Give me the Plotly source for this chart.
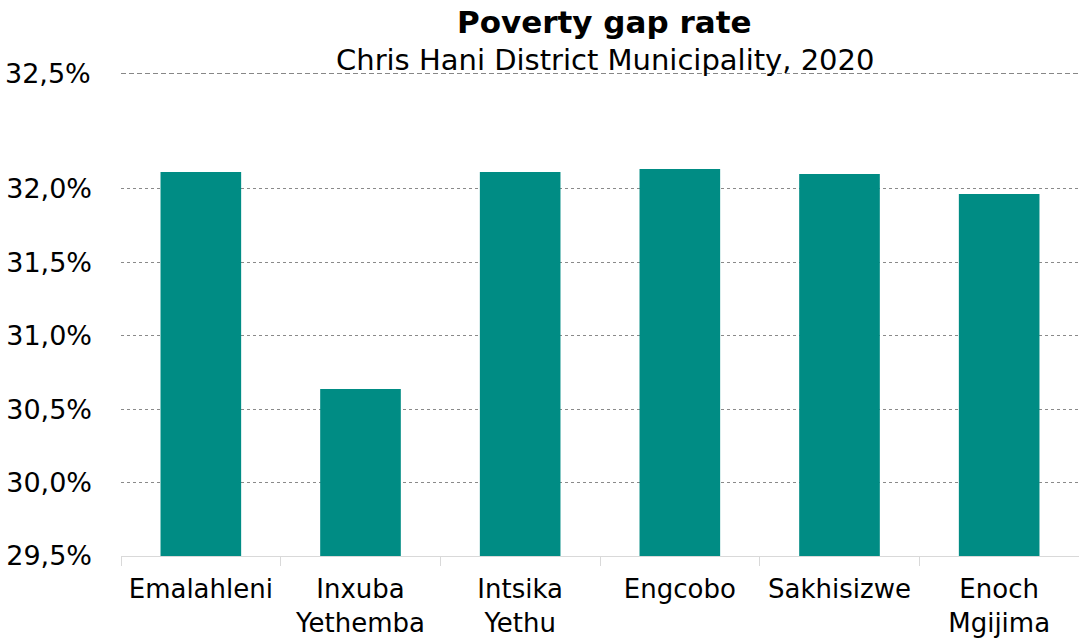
import plotly.graph_objects as go

categories = ["Emalahleni", "Inxuba<br>Yethemba", "Intsika<br>Yethu", "Engcobo", "Sakhisizwe", "Enoch<br>Mgijima"]
values = [32.116, 30.638, 32.116, 32.136, 32.102, 31.966]
y_min, y_max = 29.5, 32.79
tick_vals = [29.5, 30.0, 30.5, 31.0, 31.5, 32.0, 32.79]
tick_text = ["29,5%", "30,0%", "30,5%", "31,0%", "31,5%", "32,0%", "32,5%"]

FONT = "DejaVu Sans, Verdana, sans-serif"

fig = go.Figure(go.Bar(x=categories, y=values, marker_color="#008C84", width=0.505,
                       marker_line_width=0))

fig.update_layout(
    width=1079, height=641,
    margin=dict(l=121, r=0, t=73, b=85),
    plot_bgcolor="white", paper_bgcolor="white",
    showlegend=False,
    font=dict(family=FONT, size=24, color="black"),
    bargap=0.5,
)
fig.update_yaxes(range=[y_min, y_max], tickvals=tick_vals[:-1], ticktext=tick_text[:-1],
                 showgrid=True, gridcolor="#8a8a8a", griddash="dot", gridwidth=1,
                 zeroline=False, showline=False, ticks="", ticklabelstandoff=28,
                 tickfont=dict(size=27))
fig.update_xaxes(showline=True, linecolor="#d9d9d9", linewidth=1,
                 ticks="outside", tickson="boundaries", tickcolor="#d9d9d9", ticklen=9,
                 ticklabelstandoff=10,
                 tickfont=dict(size=26), showgrid=False)

fig.add_shape(type="line", xref="paper", yref="y", x0=0, x1=1, y0=y_max, y1=y_max,
              line=dict(color="#606060", width=1.5, dash="5px,3px"))
fig.add_annotation(xref="paper", yref="y", x=0, y=y_max, xanchor="right", yanchor="middle",
                   xshift=-28, text=tick_text[-1], showarrow=False, font=dict(size=27))

fig.add_annotation(xref="paper", yref="paper", x=0.505, y=1, yshift=51, xanchor="center",
                   yanchor="middle", text="<b>Poverty gap rate</b>", showarrow=False,
                   font=dict(size=31))
fig.add_annotation(xref="paper", yref="paper", x=0.505, y=1, yshift=13, xanchor="center",
                   yanchor="middle", text="Chris Hani District Municipality, 2020",
                   showarrow=False, font=dict(size=29))

fig.write_html("out.html")
